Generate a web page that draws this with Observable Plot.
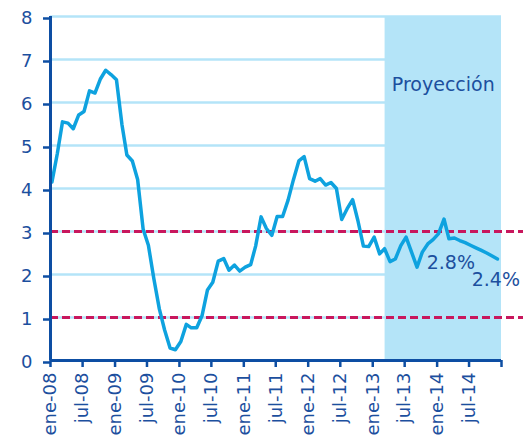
<!DOCTYPE html>
<html>
<head>
<meta charset="utf-8">
<script src="https://cdn.jsdelivr.net/npm/d3@7"></script>
<script src="https://cdn.jsdelivr.net/npm/@observablehq/plot@0.6"></script>
<style>
  body { margin: 0; background: #fff; }
  #chart svg { display: block; }
</style>
</head>
<body>
<div id="chart"></div>
<script>
// Monthly inflation (%), ene-08 .. dic-14 (from mar-13 on: projection)
const values2008 = [4.15, 4.82, 5.55, 5.52, 5.39, 5.71, 5.79, 6.27, 6.22, 6.54, 6.75, 6.65];
const values2009 = [6.53, 5.49, 4.78, 4.64, 4.21, 3.06, 2.68, 1.90, 1.20, 0.71, 0.29, 0.25];
const values2010 = [0.44, 0.84, 0.76, 0.76, 1.04, 1.64, 1.82, 2.31, 2.37, 2.10, 2.22, 2.08];
const values2011 = [2.17, 2.23, 2.66, 3.34, 3.07, 2.91, 3.35, 3.35, 3.73, 4.20, 4.64, 4.74];
const values2012 = [4.23, 4.17, 4.23, 4.08, 4.14, 4.00, 3.28, 3.53, 3.74, 3.25, 2.66, 2.65];
const values2013 = [2.87, 2.48, 2.60, 2.30, 2.36, 2.67, 2.87, 2.52, 2.17, 2.52, 2.71, 2.81];
const values2014 = [2.95, 3.29, 2.83, 2.85, 2.79, 2.74, 2.68, 2.62, 2.56, 2.50, 2.43, 2.36];

const tickLabels = ["ene-08","jul-08","ene-09","jul-09","ene-10","jul-10","ene-11",
                    "jul-11","ene-12","jul-12","ene-13","jul-13","ene-14","jul-14",""];
const yTicks = [0, 1, 2, 3, 4, 5, 6, 7, 8];
const targetLines = [1, 3];
const projectionLabel = "Proyección";
const projectionStart = "2013-03-12";
const projectionEnd = "2015-01-01";
const endLabels = ["2.8%", "2.4%"];
const endLabelDates = ["2013-11-03", "2014-07-16"];
const endLabelValues = [2.27, 1.87];

const allValues = [].concat(values2008, values2009, values2010, values2011, values2012, values2013, values2014);
const series = allValues.map((v, i) => ({ date: new Date(Date.UTC(2008, i, 9)), value: v }));
const tickDates = tickLabels.map((_, i) => new Date(Date.UTC(2008, i * 6, 1)));
const annotations = endLabels.map((t, i) => ({ text: t, date: new Date(endLabelDates[i]), value: endLabelValues[i] }));

const axisColor = "#0d4ea3";
const textColor = "#1c4f9e";
const lightBlue = "#b4e4f8";

const chart = Plot.plot({
  width: 523,
  height: 441,
  marginLeft: 50,
  marginRight: 22,
  marginTop: 16,
  marginBottom: 81,
  style: { fontFamily: "'DejaVu Sans', sans-serif", fontSize: "18px", color: textColor, background: "#fff" },
  x: { type: "utc", domain: [new Date("2008-01-01"), new Date(projectionEnd)] },
  y: { domain: [0, 8] },
  marks: [
    Plot.gridY(yTicks.slice(1), { stroke: lightBlue, strokeOpacity: 1, strokeWidth: 2.5 }),
    Plot.rect([{ a: new Date(projectionStart), b: new Date(projectionEnd) }], {
      x1: "a", x2: "b", y1: 0, y2: 8, fill: lightBlue
    }),
    Plot.ruleY(targetLines, {
      x1: new Date("2008-01-01"), x2: new Date("2015-05-10"),
      stroke: "#c8175d", strokeWidth: 3, strokeDasharray: "8,4"
    }),
    Plot.lineY(series, { x: "date", y: "value", stroke: "#0ea2df", strokeWidth: 3.5, strokeLinejoin: "round" }),
    Plot.ruleX([new Date("2008-01-01")], { y1: 0, y2: 8, stroke: axisColor, strokeWidth: 3 }),
    Plot.ruleY([0], { stroke: axisColor, strokeWidth: 3 }),
    Plot.axisY({
      ticks: yTicks, tickSize: 7, tickPadding: 11, tickFormat: d => String(d),
      stroke: axisColor, strokeWidth: 2.5, fill: textColor, fontSize: 18, dy: 2, label: null
    }),
    Plot.axisX({
      ticks: tickDates, tickFormat: (d, i) => tickLabels[i], tickRotate: -90,
      tickSize: 7, tickPadding: 5, stroke: axisColor, strokeWidth: 2.5,
      fill: textColor, fontSize: 18, label: null
    }),
    Plot.text([projectionLabel], {
      x: new Date("2014-02-05"), y: 6.42, text: d => d,
      fill: textColor, fontSize: 19, textAnchor: "middle"
    }),
    Plot.text(annotations, {
      x: "date", y: "value", text: "text",
      fill: textColor, fontSize: 19, textAnchor: "start"
    })
  ]
});
document.getElementById("chart").appendChild(chart);
</script>
</body>
</html>
